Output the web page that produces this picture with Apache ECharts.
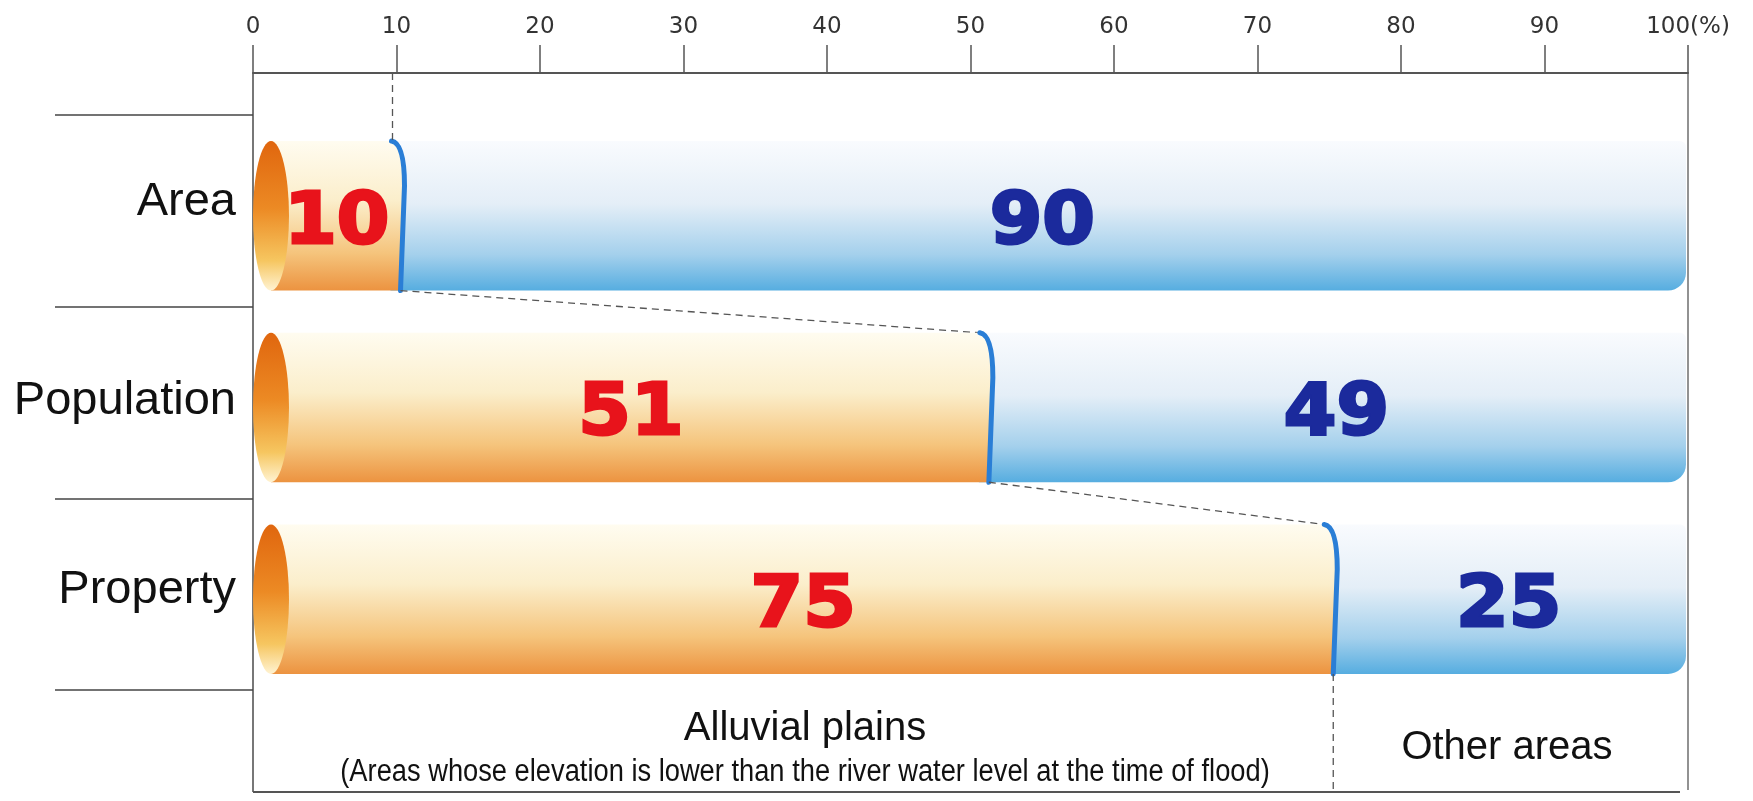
<!DOCTYPE html>
<html>
<head>
<meta charset="utf-8">
<script src="https://cdn.jsdelivr.net/npm/echarts/dist/echarts.min.js"></script>
<style>
html,body{margin:0;padding:0;background:#fff;}
#chart{width:1753px;height:801px;}
</style>
</head>
<body>
<div id="chart"></div>
<script>
// ---- data ----
const categories = ['Area', 'Population', 'Property'];
const alluvialValues = [10, 51, 75];
const otherValues = [90, 49, 25];
const axisMin = 0, axisMax = 100, axisStep = 10;
const alluvialTitle = 'Alluvial plains';
const alluvialNote = '(Areas whose elevation is lower than the river water level at the time of flood)';
const otherTitle = 'Other areas';

// ---- layout ----
const W = 1753, H = 801;
const G = { left: 253, right: 65, top: 115, bottom: 111 };
const axisOffset = 42;          // top axis line above grid
const frameBottomY = 792;       // bottom frame line
const barRatio = 0.78;
const barShift = 5;             // bars sit slightly below band centre

const chart = echarts.init(document.getElementById('chart'));

const orangeFill = new echarts.graphic.LinearGradient(0, 0, 0, 1, [
  { offset: 0, color: '#fffcf0' },
  { offset: 0.4, color: '#fbeecb' },
  { offset: 0.75, color: '#f5c47c' },
  { offset: 1, color: '#ec9340' }
]);
const blueFill = new echarts.graphic.LinearGradient(0, 0, 0, 1, [
  { offset: 0, color: '#f9fbfe' },
  { offset: 0.42, color: '#e4eef7' },
  { offset: 0.76, color: '#a4d0ec' },
  { offset: 1, color: '#56ade0' }
]);
const capFill = new echarts.graphic.LinearGradient(0, 0, 0, 1, [
  { offset: 0, color: '#e0660e' },
  { offset: 0.45, color: '#ec8a24' },
  { offset: 0.8, color: '#f6c660' },
  { offset: 1, color: '#fff3d2' }
]);
const dashStyle = { stroke: '#555', lineWidth: 1.3, lineDash: [7, 5], fill: null };
const numFont = 'bold 72px "DejaVu Sans"';
const numDrop = 8;

function barGeom(api, value, cat) {
  const p = api.coord([value, cat]);
  const h = api.size([0, 1])[1] * barRatio;
  const yc = p[1] + barShift;
  return { x: p[0], yc: yc, top: yc - h / 2, bottom: yc + h / 2, h: h };
}

function numText(txt, x, y, color) {
  return {
    type: 'text', x: x, y: y, scaleX: 1.05,
    style: {
      text: txt, x: 0, y: 0, align: 'center', verticalAlign: 'middle',
      font: numFont, fill: color, stroke: color, lineWidth: 3
    }
  };
}

function renderOther(params, api) {
  const s = api.value(0), e = api.value(1), c = api.value(2);
  const a = barGeom(api, s, c), b = barGeom(api, e, c);
  return {
    type: 'group',
    children: [
      {
        type: 'rect',
        shape: { x: a.x - 6, y: a.top, width: b.x - a.x + 4, height: a.h, r: [0, 6, 18, 0] },
        style: { fill: blueFill }
      },
      numText(String(e - s), (a.x + b.x) / 2, a.yc + numDrop, '#1b2a9c')
    ]
  };
}

function renderAlluvial(params, api) {
  const e = api.value(1), c = api.value(2);
  const z = barGeom(api, 0, c), b = barGeom(api, e, c);
  const rx = 18, ry = z.h / 2;
  const cx0 = z.x + rx;
  const bx = b.x;
  const top = b.top, bot = b.bottom, h = b.h;
  const curve = ' Q' + (bx + 8) + ' ' + (top + 2) + ' ' + (bx + 8) + ' ' + (top + 0.3 * h) +
    ' L' + (bx + 4) + ' ' + bot;
  const arc = 'M' + (bx - 5) + ' ' + top + curve;
  const body = 'M' + cx0 + ' ' + top + ' L' + (bx - 5) + ' ' + top + curve +
    ' L' + cx0 + ' ' + bot + ' Z';
  const cap = 'M' + (cx0 - rx) + ' ' + z.yc +
    ' A' + rx + ' ' + ry + ' 0 1 0 ' + (cx0 + rx) + ' ' + z.yc +
    ' A' + rx + ' ' + ry + ' 0 1 0 ' + (cx0 - rx) + ' ' + z.yc + ' Z';
  const children = [
    { type: 'path', shape: { pathData: body }, style: { fill: orangeFill } },
    { type: 'path', shape: { pathData: cap }, style: { fill: capFill } },
    { type: 'path', shape: { pathData: arc }, style: { fill: null, stroke: '#2a7ed6', lineWidth: 5, lineCap: 'round' } },
    numText(String(e), (cx0 + bx) / 2 + 3, b.yc + numDrop, '#e8131b')
  ];
  const cs = params.coordSys;
  if (c === 0) {
    children.push({ type: 'line', shape: { x1: bx - 4, y1: cs.y - axisOffset, x2: bx - 4, y2: top }, style: dashStyle });
  }
  if (c < categories.length - 1) {
    const n = barGeom(api, alluvialValues[c + 1], c + 1);
    children.push({ type: 'line', shape: { x1: bx + 4, y1: bot, x2: n.x - 5, y2: n.top }, style: dashStyle });
  } else {
    children.push({ type: 'line', shape: { x1: bx + 4, y1: bot, x2: bx + 4, y2: frameBottomY }, style: dashStyle });
  }
  return { type: 'group', children: children };
}

const x0px = G.left, x100px = W - G.right;
const labelLift = [18, 2, 8];
const yLabelFont = { fontSize: 47, fontFamily: '"Liberation Sans", Arial', color: '#111' };

const option = {
  backgroundColor: '#ffffff',
  animation: false,
  grid: { left: G.left, right: G.right, top: G.top, bottom: G.bottom, containLabel: false },
  xAxis: {
    type: 'value', position: 'top', offset: axisOffset,
    min: axisMin, max: axisMax, interval: axisStep,
    axisLine: { show: true, lineStyle: { color: '#555', width: 2 } },
    axisTick: { show: true, length: 28, lineStyle: { color: '#555', width: 1.5 } },
    splitLine: { show: false },
    axisLabel: {
      margin: 34, fontSize: 23, color: '#333', fontFamily: '"DejaVu Sans"',
      formatter: v => v === axisMax ? v + '(%)' : String(v)
    }
  },
  yAxis: {
    type: 'category', data: categories, inverse: true,
    axisLine: { show: false },
    axisTick: { show: true, length: 198, lineStyle: { color: '#444', width: 1.6 } },
    axisLabel: {
      margin: 17, color: '#111',
      formatter: (v, i) => '{c' + i + '|' + v + '}',
      rich: {
        c0: Object.assign({ padding: [0, 0, labelLift[0], 0] }, yLabelFont),
        c1: Object.assign({ padding: [0, 0, labelLift[1], 0] }, yLabelFont),
        c2: Object.assign({ padding: [0, 0, labelLift[2], 0] }, yLabelFont)
      }
    }
  },
  graphic: [
    { type: 'line', shape: { x1: x0px, y1: G.top - axisOffset, x2: x0px, y2: frameBottomY }, style: { stroke: '#555', lineWidth: 1.6 } },
    { type: 'line', shape: { x1: x100px, y1: G.top - axisOffset, x2: x100px, y2: frameBottomY - 2 }, style: { stroke: '#777', lineWidth: 1.6 } },
    { type: 'line', shape: { x1: x0px, y1: frameBottomY, x2: x100px - 8, y2: frameBottomY }, style: { stroke: '#555', lineWidth: 2 } },
    { type: 'text', x: 805, y: 729, style: { text: alluvialTitle, x: 0, y: 0, align: 'center', verticalAlign: 'middle', font: '40px "Liberation Sans", Arial', fill: '#111' } },
    { type: 'text', x: 805, y: 772, scaleX: 0.88, style: { text: alluvialNote, x: 0, y: 0, align: 'center', verticalAlign: 'middle', font: '31px "Liberation Sans", Arial', fill: '#111' } },
    { type: 'text', x: 1507, y: 748, style: { text: otherTitle, x: 0, y: 0, align: 'center', verticalAlign: 'middle', font: '40px "Liberation Sans", Arial', fill: '#111' } }
  ],
  series: [
    {
      name: 'Other areas', type: 'custom', renderItem: renderOther, z: 2,
      encode: { x: [0, 1], y: 2 },
      data: otherValues.map((v, i) => [alluvialValues[i], alluvialValues[i] + v, i])
    },
    {
      name: 'Alluvial plains', type: 'custom', renderItem: renderAlluvial, z: 3,
      encode: { x: [0, 1], y: 2 },
      data: alluvialValues.map((v, i) => [0, v, i])
    }
  ]
};
chart.setOption(option);
</script>
</body>
</html>
